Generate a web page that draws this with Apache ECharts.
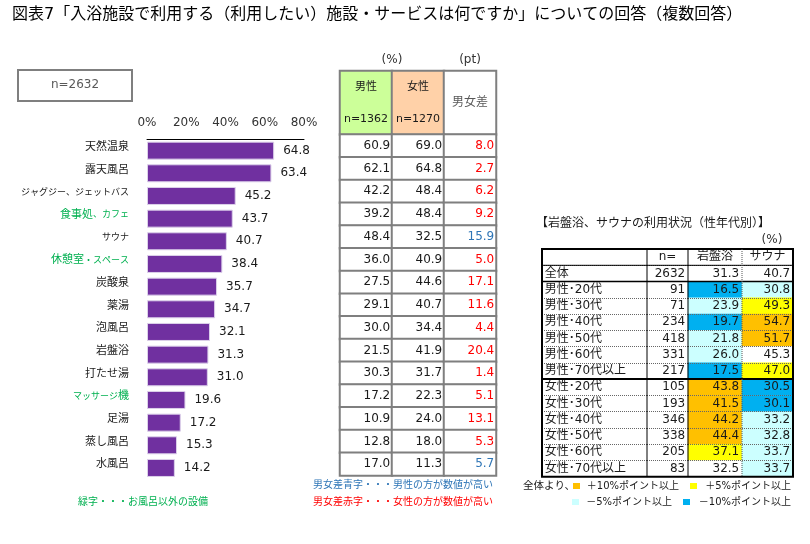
<!DOCTYPE html>
<html>
<head>
<meta charset="utf-8">
<style>html,body{margin:0;padding:0;background:#fff}#main{width:810px;height:544px}</style>
<script src="https://cdn.jsdelivr.net/npm/echarts@6/dist/echarts.min.js"></script>
</head>
<body>
<div id="main"></div>
<script>
var FONT = '"DejaVu Sans","Noto Sans CJK JP",sans-serif';

// 左の棒グラフ
var facilities = ['天然温泉', '露天風呂', 'ジャグジー、ジェットバス', '食事処、カフェ', 'サウナ', '休憩室・スペース', '炭酸泉', '薬湯', '泡風呂', '岩盤浴', '打たせ湯', 'マッサージ機', '足湯', '蒸し風呂', '水風呂'];
var nonBath = ['食事処、カフェ', '休憩室・スペース', 'マッサージ機'];
var totalPct = [64.8, 63.4, 45.2, 43.7, 40.7, 38.4, 35.7, 34.7, 32.1, 31.3, 31.0, 19.6, 17.2, 15.3, 14.2];
var malePct = [60.9, 62.1, 42.2, 39.2, 48.4, 36.0, 27.5, 29.1, 30.0, 21.5, 30.3, 17.2, 10.9, 12.8, 17.0];
var femalePct = [69.0, 64.8, 48.4, 48.4, 32.5, 40.9, 44.6, 40.7, 34.4, 41.9, 31.7, 22.3, 24.0, 18.0, 11.3];
var genderGap = [8.0, 2.7, 6.2, 9.2, 15.9, 5.0, 17.1, 11.6, 4.4, 20.4, 1.4, 5.1, 13.1, 5.3, 5.7];

// 右の性年代別テーブル
var segments = ['全体', '男性･20代', '男性･30代', '男性･40代', '男性･50代', '男性･60代', '男性･70代以上', '女性･20代', '女性･30代', '女性･40代', '女性･50代', '女性･60代', '女性･70代以上'];
var segmentN = [2632, 91, 71, 234, 418, 331, 217, 105, 193, 346, 338, 205, 83];
var ganbanyoku = [31.3, 16.5, 23.9, 19.7, 21.8, 26.0, 17.5, 43.8, 41.5, 44.2, 44.4, 37.1, 32.5];
var sauna = [40.7, 30.8, 49.3, 54.7, 51.7, 45.3, 47.0, 30.5, 30.1, 33.2, 32.8, 33.7, 33.7];

var GRAY = '#7f7f7f', BLUE = '#2e75b6', RED = '#ff0000', GREEN = '#00b050', INK = '#1a1a1a';
var ORANGE = '#ffc000', YELLOW = '#ffff00', CYAN = '#ccffff', SKY = '#00b0f0';

var grids = [], xAxes = [], yAxes = [], series = [];

// 棒グラフ本体
grids.push({ left: 147, top: 139.3, width: 157, height: 340 });
xAxes.push({
    gridIndex: 0, type: 'value', position: 'top', min: 0, max: 80, interval: 20,
    axisLine: { show: true, lineStyle: { color: '#000', width: 1 } },
    axisTick: { show: false }, splitLine: { show: false },
    axisLabel: { margin: 10, fontSize: 12, color: '#333', fontFamily: FONT, formatter: '{value}%' }
});
yAxes.push({
    gridIndex: 0, type: 'category', inverse: true, data: facilities,
    axisLine: { show: false }, axisTick: { show: false },
    axisLabel: {
        margin: 18, fontSize: 11, fontFamily: FONT, padding: [0, 0, 7, 0],
        color: function (v) { return nonBath.indexOf(v) >= 0 ? GREEN : INK; },
        // カナは元図で細いので小さめにする
        formatter: function (v) { return v.replace(/[\u30a0-\u30ff、・]+/g, function (m) { return '{k|' + m + '}'; }); },
        rich: { k: { fontSize: 9, fontFamily: FONT } }
    }
});
series.push({
    type: 'bar', xAxisIndex: 0, yAxisIndex: 0, data: totalPct, barWidth: 18, animation: false,
    itemStyle: { color: '#7030a0', borderColor: '#dcd0ea', borderWidth: 1 },
    label: { show: true, position: 'right', distance: 9, fontSize: 12, color: INK, fontFamily: FONT, padding: [3, 0, 0, 0], formatter: function (p) { return p.value.toFixed(1); } }
});

// テーブル1列分を grid + heatmap で作る
function addColumn(left, width, top, height, cells, opt) {
    opt = opt || {};
    var idx = grids.length, rowNames = cells.map(function (c, i) { return i; });
    grids.push({ left: left, top: top, width: width, height: height });
    xAxes.push({ gridIndex: idx, type: 'category', data: ['c'], show: false });
    yAxes.push({
        gridIndex: idx, type: 'category', inverse: true, data: rowNames, z: 10,
        axisLine: { show: false }, axisTick: { show: false }, axisLabel: { show: false },
        splitLine: opt.dotted ? { show: true, lineStyle: { color: '#666', width: 1, type: 'dotted' } } : { show: false }
    });
    series.push({
        type: 'heatmap', xAxisIndex: idx, yAxisIndex: idx, animation: false,
        itemStyle: opt.border ? { borderColor: GRAY, borderWidth: 2 } : { borderWidth: 0 },
        data: cells.map(function (c, i) {
            return {
                value: [0, i, 1],
                itemStyle: { color: c.bg || '#fff' },
                label: {
                    show: true, position: c.pos || 'insideRight', distance: c.dist === undefined ? 3 : c.dist,
                    fontSize: c.size || 12, fontFamily: FONT, color: c.color || INK, lineHeight: c.lh,
                    formatter: function () { return c.text; }
                }
            };
        })
    });
}

var fix1 = function (v) { return { text: v.toFixed(1) }; };

// 男女差テーブル
var colA = [340, 392, 444], colAW = 52, tA = 134.5, hA = 341;
addColumn(colA[0], colAW, 71, 63.5, [{ text: '男性\n\nn=1362', bg: '#ccff99', pos: 'inside', size: 11, lh: 16 }], { border: true });
addColumn(colA[1], colAW, 71, 63.5, [{ text: '女性\n\nn=1270', bg: '#ffd1a8', pos: 'inside', size: 11, lh: 16 }], { border: true });
addColumn(colA[2], colAW, 71, 63.5, [{ text: '男女差', color: '#595959', pos: 'inside', size: 12 }], { border: true });
addColumn(colA[0], colAW, tA, hA, malePct.map(fix1), { border: true });
addColumn(colA[1], colAW, tA, hA, femalePct.map(fix1), { border: true });
addColumn(colA[2], colAW, tA, hA, genderGap.map(function (g, i) {
    return { text: g.toFixed(1), color: malePct[i] > femalePct[i] ? BLUE : RED };
}), { border: true });

// 全体との差で背景色を決める
function tier(v, base) {
    var d = v - base;
    if (d >= 10) return ORANGE;
    if (d >= 5) return YELLOW;
    if (d <= -10) return SKY;
    if (d <= -5) return CYAN;
    return '#fff';
}
var tB = 249, hB = 227.7;
addColumn(542, 105, tB, hB, [{ text: '' }].concat(segments.map(function (s) {
    return { text: s, pos: 'insideLeft' };
})), { dotted: true });
addColumn(647, 41, tB, hB, [{ text: 'n=', pos: 'inside', size: 12 }].concat(segmentN.map(function (n) {
    return { text: String(n) };
})), { dotted: true });
addColumn(688, 54, tB, hB, [{ text: '岩盤浴', pos: 'inside' }].concat(ganbanyoku.map(function (v, i) {
    return { text: v.toFixed(1), bg: i ? tier(v, ganbanyoku[0]) : '#fff' };
})), { dotted: true });
addColumn(742, 51, tB, hB, [{ text: 'サウナ', pos: 'inside' }].concat(sauna.map(function (v, i) {
    return { text: v.toFixed(1), bg: i ? tier(v, sauna[0]) : '#fff' };
})), { dotted: true });

function txt(x, y, s, color, size, align) {
    return { type: 'text', x: x, y: y, z: 30, style: { text: s, fill: color || INK, font: (size || 12) + 'px ' + FONT, textAlign: align || 'left', textVerticalAlign: 'middle' } };
}
function hline(x1, x2, y, w) {
    return { type: 'line', z: 30, shape: { x1: x1, y1: y, x2: x2, y2: y }, style: { stroke: '#000', lineWidth: w } };
}
function vline(x, y1, y2, w, dash) {
    return { type: 'line', z: 30, shape: { x1: x, y1: y1, x2: x, y2: y2 }, style: { stroke: dash ? '#555' : '#000', lineWidth: w, lineDash: dash ? [1, 1] : null } };
}
function swatch(x, y, color) {
    return { type: 'rect', z: 30, shape: { x: x, y: y, width: 7, height: 6 }, style: { fill: color } };
}

var decorations = [
    txt(12, 15, '図表7「入浴施設で利用する（利用したい）施設・サービスは何ですか」についての回答（複数回答）', '#000', 16),
    { type: 'rect', z: 30, shape: { x: 18, y: 70, width: 114, height: 31 }, style: { fill: '#fff', stroke: GRAY, lineWidth: 2 } },
    txt(75, 85, 'n=2632', '#595959', 12, 'center'),
    txt(392, 60, '(%)', '#333', 12, 'center'),
    txt(470, 60, '(pt)', '#333', 12, 'center'),
    txt(78, 502, '緑字・・・お風呂以外の設備', GREEN, 10),
    txt(493, 485, '男女差青字・・・男性の方が数値が高い', BLUE, 10, 'right'),
    txt(493, 502, '男女差赤字・・・女性の方が数値が高い', RED, 10, 'right'),
    txt(536, 224, '【岩盤浴、サウナの利用状況（性年代別）】', INK, 12),
    txt(772, 240, '(%)', '#333', 12, 'center'),
    // 枠線
    { type: 'rect', z: 30, shape: { x: 542, y: 249, width: 251, height: 227.7 }, style: { fill: 'none', stroke: '#000', lineWidth: 2 } },
    hline(542, 793, 265.3, 1),
    hline(542, 793, 281.5, 1.5),
    hline(542, 793, 379, 2),
    vline(647, 249, 476.7, 1),
    vline(688, 249, 476.7, 1),
    vline(742, 249, 476.7, 1, true),
    // 凡例
    txt(523, 486, '全体より、', INK, 10.5),
    swatch(573, 483, ORANGE),
    txt(679, 486, '＋10%ポイント以上', INK, 10, 'right'),
    swatch(690, 483, YELLOW),
    txt(791, 486, '＋5%ポイント以上', INK, 10, 'right'),
    swatch(572, 499, CYAN),
    txt(672, 502, '－5%ポイント以上', INK, 10, 'right'),
    swatch(683, 499, SKY),
    txt(791, 502, '－10%ポイント以上', INK, 10, 'right')
];

var chart = echarts.init(document.getElementById('main'), null, { renderer: 'canvas' });
chart.setOption({
    backgroundColor: '#fff',
    animation: false,
    textStyle: { fontFamily: FONT },
    grid: grids, xAxis: xAxes, yAxis: yAxes, series: series,
    graphic: { z: 30, elements: decorations }
});
</script>
</body>
</html>
